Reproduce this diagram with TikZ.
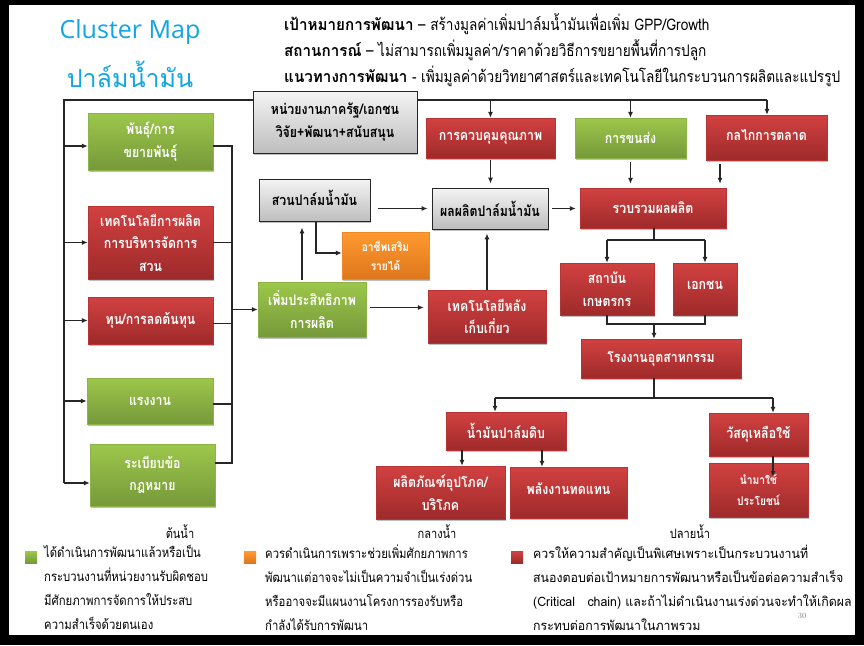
\documentclass[tikz,border=0pt]{standalone}
\usepackage{fontspec}
\usetikzlibrary{arrows.meta,shadows}
\newfontfamily\thai[Script=Thai]{Loma}
\newfontfamily\thaic[Script=Thai,FakeStretch=0.85]{Loma}
\newfontfamily\thaiw[Script=Thai,FakeStretch=0.95]{Loma}
\newfontfamily\titlefont{Open Sans}
\definecolor{gTop}{HTML}{9DC74B}
\definecolor{gBot}{HTML}{76993A}
\definecolor{gBorder}{HTML}{8CB548}
\definecolor{rTop}{HTML}{D24141}
\definecolor{rBot}{HTML}{9E2A2A}
\definecolor{rBorder}{HTML}{B83333}
\definecolor{oTop}{HTML}{FF9A30}
\definecolor{oBot}{HTML}{DE761C}
\definecolor{oBorder}{HTML}{F08A28}
\definecolor{kTop}{HTML}{F4F4F4}
\definecolor{kBot}{HTML}{BEBEBE}
\definecolor{cyanT}{HTML}{12A5E3}
\tikzset{
  boxbase/.style={rectangle, inner sep=1pt, align=center,
    font=\thaic\bfseries\fontsize{14.5}{22.5}\selectfont,
    drop shadow={shadow xshift=1pt,shadow yshift=-1.5pt,fill=black,opacity=0.25}},
  gbox/.style={boxbase, draw=gBorder, top color=gTop, bottom color=gBot, text=white},
  rbox/.style={boxbase, draw=rBorder, top color=rTop, bottom color=rBot, text=white},
  obox/.style={boxbase, draw=oBorder, top color=oTop, bottom color=oBot, text=white},
  kbox/.style={boxbase, draw=black!85, line width=0.9pt, top color=kTop, bottom color=kBot, text=black},
  conn/.style={draw=black!85, line width=1.1pt},
  arr/.style={conn, -{Latex[length=6pt,width=5pt]}},
  hdr/.style={anchor=west, inner sep=0pt, font=\thaic\fontsize{16}{18}\selectfont},
  legtext/.style={anchor=north west, inner sep=0pt, align=left, font=\thaic\fontsize{13.3}{24}\selectfont},
  stage/.style={font=\thaic\fontsize{13}{15}\selectfont},
  legsq/.style={minimum size=12pt, inner sep=0pt},
}
\newcommand{\hb}[1]{{\thaiw\bfseries #1}}
\begin{document}
\begin{tikzpicture}[x=1pt,y=-1pt]
\useasboundingbox (0,0) rectangle (864,645);
\fill[black] (0,0) rectangle (864,645);
\fill[white] (9,5) rectangle (855,635);

% title
\node[font=\titlefont\fontsize{25}{30}\selectfont, text=cyanT] (t1) at (130,32) {Cluster Map};
\node[font=\thai\fontsize{25}{32}\selectfont, text=cyanT] (t2) at (130,74) {ปาล์มน้ำมัน};

% header
\node[hdr] (h1) at (284,24) {\hb{เป้าหมายการพัฒนา} – สร้างมูลค่าเพิ่มปาล์มน้ำมันเพื่อเพิ่ม GPP/Growth};
\node[hdr] (h2) at (284,50) {\hb{สถานการณ์} – ไม่สามารถเพิ่มมูลค่า/ราคาด้วยวิธีการขยายพื้นที่การปลูก};
\node[hdr] (h3) at (284,76) {\hb{แนวทางการพัฒนา} - เพิ่มมูลค่าด้วยวิทยาศาสตร์และเทคโนโลยีในกระบวนการผลิตและแปรรูป};

% connectors behind boxes
\coordinate (tl) at (64,100);
\coordinate (tr) at (767,100);
\coordinate (lb) at (64,483);
\coordinate (rt) at (232,146);
\coordinate (rb) at (232,463);

% left column
\node[gbox, minimum width=125pt, minimum height=57pt] (b1) at (150.5,141.5) {พันธุ์/การ\\ขยายพันธุ์};
\node[rbox, minimum width=125pt, minimum height=73pt] (b2) at (150.5,242.5) {เทคโนโลยีการผลิต\\การบริหารจัดการ\\สวน};
\node[rbox, minimum width=125pt, minimum height=47pt] (b3) at (150.5,320.5) {ทุน/การลดต้นทุน};
\node[gbox, minimum width=126pt, minimum height=46pt] (b4) at (150,401) {แรงงาน};
\node[gbox, minimum width=125pt, minimum height=62pt] (b5) at (152.5,475) {ระเบียบข้อ\\กฎหมาย};

% middle
\node[kbox, minimum width=164pt, minimum height=62pt] (gov) at (335,122) {หน่วยงานภาครัฐ/เอกชน\\วิจัย+พัฒนา+สนับสนุน};
\node[kbox, minimum width=111pt, minimum height=42pt] (suan) at (314.5,200) {\raisebox{4pt}{สวนปาล์มน้ำมัน}};
\node[obox, minimum width=87pt, minimum height=47pt, font=\thaic\bfseries\fontsize{12}{19}\selectfont] (achip) at (385.5,255.5) {อาชีพเสริม\\รายได้};
\node[gbox, minimum width=108pt, minimum height=55pt] (perm) at (312,309.5) {เพิ่มประสิทธิภาพ\\การผลิต};
\node[kbox, minimum width=116pt, minimum height=41pt] (pon) at (490,208.5) {ผลผลิตปาล์มน้ำมัน};
\node[rbox, minimum width=118pt, minimum height=53pt] (tech2) at (487,316.5) {เทคโนโลยีหลัง\\เก็บเกี่ยว};
\node[rbox, minimum width=129pt, minimum height=40pt] (qc) at (490.5,138) {การควบคุมคุณภาพ};
\node[gbox, minimum width=111pt, minimum height=40pt] (trans) at (630.5,138) {การขนส่ง};
\node[rbox, minimum width=121pt, minimum height=45pt] (mkt) at (766.5,137.5) {\raisebox{5pt}{กลไกการตลาด}};
\node[rbox, minimum width=146pt, minimum height=40pt] (col) at (653,208) {รวบรวมผลผลิต};
\node[rbox, minimum width=94pt, minimum height=52pt] (inst) at (607,289) {สถาบัน\\เกษตรกร};
\node[rbox, minimum width=64pt, minimum height=52pt] (priv) at (705,289) {\raisebox{7pt}{เอกชน}};
\node[rbox, minimum width=160pt, minimum height=39pt] (fac) at (661,358.5) {โรงงานอุตสาหกรรม};
\node[rbox, minimum width=120pt, minimum height=38pt] (cpo) at (506,431) {น้ำมันปาล์มดิบ};
\node[rbox, minimum width=99pt, minimum height=43pt] (waste) at (758.5,434.5) {วัสดุเหลือใช้};
\node[rbox, minimum width=129pt, minimum height=53pt] (cons) at (440.5,492.5) {ผลิตภัณฑ์อุปโภค/\\บริโภค};
\node[rbox, minimum width=117pt, minimum height=51pt] (energy) at (568.5,492.5) {\raisebox{8pt}{พลังงานทดแทน}};
\node[rbox, minimum width=99pt, minimum height=54pt, font=\thaic\bfseries\fontsize{12}{21}\selectfont] (use) at (758.5,490) {นำมาใช้\\ประโยชน์};

% top distribution line and left bus
\draw[conn] (gov.west |- tl) -- (tl) -- (lb);
\draw[conn] (gov.east |- tl) -- (tr);
\draw[arr] (tl |- rt) -- (b1.west |- rt);
\draw[arr] (tl |- b2.west) -- (b2.west);
\draw[arr] (tl |- b3.west) -- (b3.west);
\draw[arr] (tl |- b4.west) -- (b4.west);
\draw[arr] (lb) -- (b5.west |- lb);
\draw[arr] (qc.north |- tl) -- (qc.north);
\draw[arr] (trans.north |- tl) -- (trans.north);
\draw[arr] (tr) -- (tr |- mkt.north);

% right bus of left column
\coordinate (b3e) at ([yshift=-3pt]b3.east);
\coordinate (b4e) at ([yshift=-3pt]b4.east);
\draw[conn] (b1.east |- rt) -- (rt) -- (rb) -- (b5.east |- rb);
\draw[conn] (b2.east) -- (rt |- b2.east);
\draw[conn] (b3e) -- (rt |- b3e);
\draw[conn] (b4e) -- (rt |- b4e);
\draw[arr] (rt |- perm.west) -- (perm.west);

% middle flows
\draw[arr, shorten <=8pt, shorten >=4pt] (suan.east |- pon.west) -- (pon.west);
\coordinate (pn) at ([xshift=-10pt]perm.north);
\draw[arr, shorten <=2pt, shorten >=6pt] (pn) -- (pn |- suan.south);
\coordinate (sb) at (316,253);
\draw[arr] (sb |- suan.south) -- (sb) -- (achip.west |- sb);
\coordinate (pe) at ([yshift=2pt]perm.east);
\draw[arr, shorten <=4pt, shorten >=4pt] (pe) -- (pe -| tech2.west);
\draw[arr, shorten >=4pt] (tech2.north) -- (tech2.north |- pon.south);
\draw[arr, shorten <=2pt, shorten >=4pt] (qc.south) -- (qc.south |- pon.north);
\draw[arr, shorten <=4pt, shorten >=4pt] (pon.east) -- (pon.east -| col.west);
\draw[arr, shorten <=4pt, shorten >=4pt] (trans.south) -- (trans.south |- col.north);
\coordinate (mk) at (720,164);
\draw[arr, shorten >=4pt] (mk) -- (mk |- col.north);

% distribution
\coordinate (cj) at (654,240);
\draw[conn] (col.south -| cj) -- (cj);
\draw[conn] (inst.north |- cj) -- (priv.north |- cj);
\draw[arr] (inst.north |- cj) -- (inst.north);
\draw[arr] (priv.north |- cj) -- (priv.north);
\coordinate (fj) at (654,324);
\draw[conn] (inst.south) -- (inst.south |- fj) -- (priv.south |- fj) -- (priv.south);
\draw[arr] (fj) -- (fj |- fac.north);
\coordinate (gj) at (654,398);
\coordinate (gl) at (495,398);
\coordinate (gr) at (773,398);
\draw[conn] (fac.south -| gj) -- (gj);
\draw[conn] (gl) -- (gr);
\draw[arr] (gl) -- (gl |- cpo.north);
\draw[arr] (gr) -- (gr |- waste.north);
\coordinate (c1) at (462,450);
\coordinate (c2) at (542,450);
\draw[arr] (c1) -- (c1 |- cons.north);
\draw[arr] (c2) -- (c2 |- energy.north);
\coordinate (w1) at (773,456);
\coordinate (w2) at (773,477);
\draw[arr] (w1) -- (w2);

% stage labels
\node[stage] (s1) at (180,532) {ต้นน้ำ};
\node[stage] (s2) at (437,532) {กลางน้ำ};
\node[stage] (s3) at (690,532) {ปลายน้ำ};

% legend
\node[legsq, top color=gTop, bottom color=gBot] (lg) at (31,557) {};
\node[legsq, top color=oTop, bottom color=oBot] (lo) at (250,557) {};
\node[legsq, top color=rTop, bottom color=rBot] (lr) at (517,557) {};
\node[legtext] (lgt) at (44,545) {ได้ดำเนินการพัฒนาแล้วหรือเป็น\\กระบวนงานที่หน่วยงานรับผิดชอบ\\มีศักยภาพการจัดการให้ประสบ\\ความสำเร็จด้วยตนเอง};
\node[legtext] (lot) at (265,545) {ควรดำเนินการเพราะช่วยเพิ่มศักยภาพการ\\พัฒนาแต่อาจจะไม่เป็นความจำเป็นเร่งด่วน\\หรืออาจจะมีแผนงานโครงการรองรับหรือ\\กำลังได้รับการพัฒนา};
\node[legtext, font=\thaiw\fontsize{13}{24}\selectfont] (lrt) at (533,545) {ควรให้ความสำคัญเป็นพิเศษเพราะเป็นกระบวนงานที่\\สนองตอบต่อเป้าหมายการพัฒนาหรือเป็นข้อต่อความสำเร็จ\\(Critical\ \ \ chain) และถ้าไม่ดำเนินงานเร่งด่วนจะทำให้เกิดผล\\กระทบต่อการพัฒนาในภาพรวม};
\node[font=\fontsize{8}{9}\selectfont, text=black!50, inner sep=0pt] (pg) at (802,616) {30};
\end{tikzpicture}
\end{document}
